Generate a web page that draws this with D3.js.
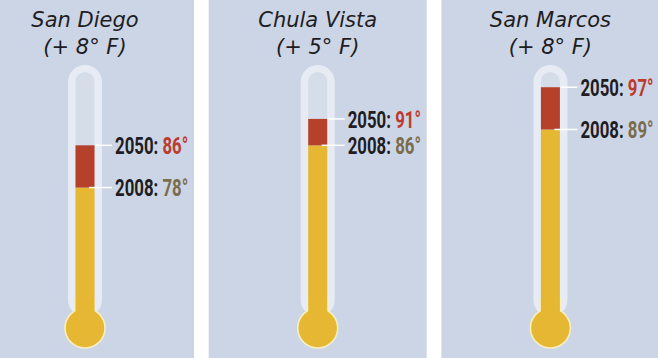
<!DOCTYPE html>
<html>
<head>
<meta charset="utf-8">
<script src="https://cdn.jsdelivr.net/npm/d3@7"></script>
<style>
  html, body { margin: 0; padding: 0; background: #ffffff; }
  svg { display: block; }
</style>
</head>
<body>
<svg id="chart" width="658" height="358"></svg>
<script>
// ---- data ----
const cities = ["San Diego", "Chula Vista", "San Marcos"];
const temp2008 = [78, 86, 89];
const temp2050 = [86, 91, 97];
const yearLabels = ["2008", "2050"];

// ---- layout ----
const W = 658, H = 358;
const svg = d3.select("#chart");

const x = d3.scalePoint().domain(cities).range([85, 550.4]);
const y = d3.scaleLinear().domain([60, 100]).range([282.6, 71.4]);

const colors = {
  panel: "#cbd5e6",
  tubeOuter: "#e7ecf4",
  tubeInner: "#d5dde9",
  red: "#b5412b",
  yellow: "#e6b732",
  bulbStroke: "#f7efc2",
  text: "#1f1d22",
  val2050: "#bd3b2e",
  val2008: "#7b6c4c"
};

const labelFont = "Roboto, 'DejaVu Sans', sans-serif";
const titleFont = "'DejaVu Sans', 'Open Sans', sans-serif";

const data = cities.map((c, i) => ({ city: c, t08: temp2008[i], t50: temp2050[i] }));

const bgLayer = svg.append("g");
const fgLayer = svg.append("g");

// panel backgrounds
bgLayer.selectAll("rect").data(data).join("rect")
  .attr("x", d => x(d.city) - 109)
  .attr("y", 0)
  .attr("width", 218)
  .attr("height", H)
  .attr("fill", colors.panel);

const g = fgLayer.selectAll("g.panel").data(data).join("g").attr("class", "panel");

// tube outer
g.append("rect")
  .attr("x", d => x(d.city) - 17)
  .attr("y", 65)
  .attr("width", 34)
  .attr("height", 252)
  .attr("rx", 17)
  .attr("fill", colors.tubeOuter);

// tube inner channel
g.append("rect")
  .attr("x", d => x(d.city) - 9.5)
  .attr("y", 72)
  .attr("width", 19)
  .attr("height", 245)
  .attr("rx", 9.5)
  .attr("fill", colors.tubeInner);

// bulb neck outline
g.append("rect")
  .attr("x", d => x(d.city) - 10.7)
  .attr("y", 298)
  .attr("width", 21.4)
  .attr("height", 20)
  .attr("fill", colors.bulbStroke);

// bulb
g.append("circle")
  .attr("cx", d => x(d.city))
  .attr("cy", 328)
  .attr("r", 20)
  .attr("fill", colors.yellow)
  .attr("stroke", colors.bulbStroke)
  .attr("stroke-width", 1.6);

// yellow column (2008)
g.append("rect")
  .attr("x", d => x(d.city) - 9.5)
  .attr("y", d => y(d.t08))
  .attr("width", 19)
  .attr("height", d => 325 - y(d.t08))
  .attr("fill", colors.yellow);

// red column (2008 -> 2050)
g.append("rect")
  .attr("x", d => x(d.city) - 9.5)
  .attr("y", d => y(d.t50))
  .attr("width", 19)
  .attr("height", d => y(d.t08) - y(d.t50))
  .attr("fill", colors.red);

// leader lines
g.append("line")
  .attr("x1", d => x(d.city) + 10)
  .attr("x2", d => x(d.city) + 27)
  .attr("y1", d => y(d.t50))
  .attr("y2", d => y(d.t50))
  .attr("stroke", "#ffffff")
  .attr("stroke-width", 1.5);

g.append("line")
  .attr("x1", d => x(d.city) + 4)
  .attr("x2", d => x(d.city) + 27)
  .attr("y1", d => y(d.t08))
  .attr("y2", d => y(d.t08))
  .attr("stroke", "#ffffff")
  .attr("stroke-width", 1.5);

// value labels (condensed by horizontal scaling)
function addLabel(sel, year, key, valColor) {
  const t = sel.append("text")
    .attr("transform", d => `translate(${x(d.city) + 30},${y(d[key])}) scale(0.7,1)`)
    .attr("dy", "0.36em")
    .attr("font-family", labelFont)
    .attr("font-weight", "bold")
    .attr("font-size", 24)
    .attr("fill", colors.text);
  t.append("tspan").text(year + ": ");
  t.append("tspan").attr("fill", valColor).text(d => d[key] + "°");
}
addLabel(g, yearLabels[1], "t50", colors.val2050);
addLabel(g, yearLabels[0], "t08", colors.val2008);

// titles
g.append("text")
  .attr("x", d => x(d.city))
  .attr("y", 27)
  .attr("text-anchor", "middle")
  .attr("font-family", titleFont)
  .attr("font-style", "italic")
  .attr("font-size", 21)
  .attr("fill", colors.text)
  .text(d => d.city);

g.append("text")
  .attr("x", d => x(d.city))
  .attr("y", 54)
  .attr("text-anchor", "middle")
  .attr("font-family", titleFont)
  .attr("font-style", "italic")
  .attr("font-size", 21)
  .attr("fill", colors.text)
  .text(d => "(+ " + (d.t50 - d.t08) + "° F)");
</script>
</body>
</html>
